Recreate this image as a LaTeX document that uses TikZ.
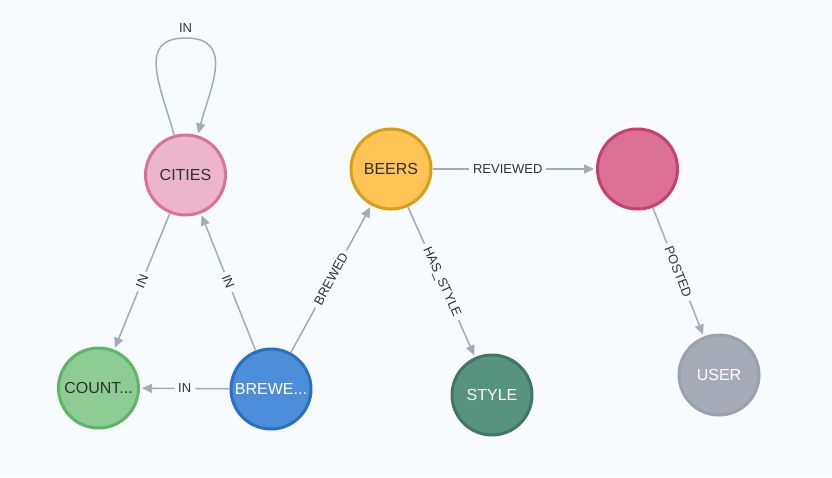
\documentclass[tikz,border=0pt]{standalone}
\usepackage{fontspec}
\setmainfont{Liberation Sans}
\usetikzlibrary{arrows.meta}
\definecolor{bg}{HTML}{F8FBFE}
\definecolor{edgec}{HTML}{A5ABB6}
\definecolor{txt}{HTML}{2F3035}
\definecolor{citF}{HTML}{ECB5C9}\definecolor{citD}{HTML}{DA7298}
\definecolor{beeF}{HTML}{FFC454}\definecolor{beeD}{HTML}{D7A013}
\definecolor{revF}{HTML}{DA7194}\definecolor{revD}{HTML}{CC3C6C}
\definecolor{couF}{HTML}{8DCC93}\definecolor{couD}{HTML}{5DB665}
\definecolor{breF}{HTML}{4C8EDA}\definecolor{breD}{HTML}{2870C2}
\definecolor{styF}{HTML}{569480}\definecolor{styD}{HTML}{447666}
\definecolor{useF}{HTML}{A5ABB6}\definecolor{useD}{HTML}{9AA1AC}
\begin{document}
\begin{tikzpicture}[x=1pt,y=-1pt,
  nd/.style={circle,minimum size=80pt,line width=3pt,inner sep=0pt,font=\fontsize{16}{19}\selectfont,text=txt},
  edge/.style={draw=edgec,line width=1.5pt,-{Triangle[length=10pt,width=9pt]},shorten >=2pt},
  lbl/.style={sloped,fill=bg,inner xsep=4pt,inner ysep=1pt,font=\fontsize{13}{15}\selectfont,text=txt}]
\fill[bg] (0,0) rectangle (832,477);
\useasboundingbox (0,0) rectangle (832,477);
\node[nd,fill=citF,draw=citD] (cities) at (185.5,175) {CITIES};
\node[nd,fill=beeF,draw=beeD] (beers) at (391,169) {BEERS};
\node[nd,fill=revF,draw=revD] (review) at (637.5,169) {};
\node[nd,fill=couF,draw=couD] (countries) at (98.5,388) {COUNT...};
\node[nd,fill=breF,draw=breD,text=white] (breweries) at (271,389) {BREWE...};
\node[nd,fill=styF,draw=styD,text=white] (style) at (492,395) {STYLE};
\node[nd,fill=useF,draw=useD,text=white] (user) at (719,375) {USER};
\coordinate (looptop) at (185.5,38);
\draw[edge] (cities.106) to[out=105,in=180,looseness=1.3] (looptop)
  to[out=0,in=75,looseness=1.3] (cities.73);
\node[font=\fontsize{13}{15}\selectfont,text=txt,anchor=south,inner sep=0pt] (looplbl) at ([yshift=5pt]looptop) {IN};
\draw[edge] (cities) -- node[lbl,midway] {IN} (countries);
\draw[edge] (breweries) -- node[lbl,midway] {IN} (cities);
\draw[edge] (breweries) -- node[lbl,midway] {BREWED} (beers);
\draw[edge] (breweries) -- node[lbl,midway] {IN} (countries);
\draw[edge] (beers) -- node[lbl,pos=0.46] {REVIEWED} (review);
\draw[edge] (beers) -- node[lbl,midway] {HAS\_STYLE} (style);
\draw[edge] (review) -- node[lbl,midway] {POSTED} (user);
\end{tikzpicture}
\end{document}
